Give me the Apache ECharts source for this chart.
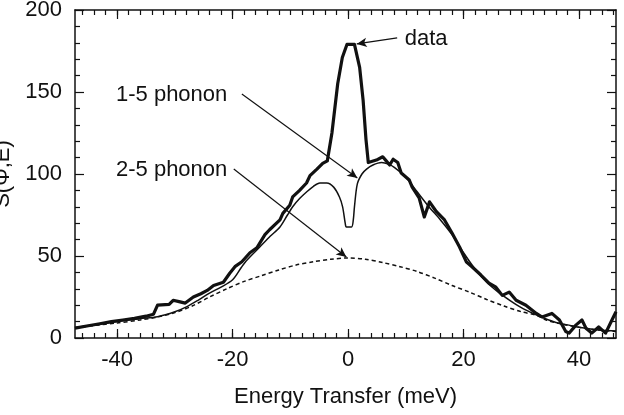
<!DOCTYPE html>
<html>
<head>
<meta charset="utf-8">
<script src="https://cdn.jsdelivr.net/npm/echarts@6/dist/echarts.min.js"></script>
<style>
html, body { margin: 0; padding: 0; background: #fff; }
#chart { width: 624px; height: 415px; }
</style>
</head>
<body>
<div id="chart"></div>
<script>
// measured data (thick line)
var dataE = [-47.3, -45, -43, -41, -39, -37, -35, -33.7, -33, -31, -30.3, -29.1, -28.2, -26.8, -25.5, -24.4, -23.3, -21.6, -20.5, -19.6, -18.4, -17, -15.8, -14.4, -13.6, -11.8, -11.3, -10.1, -9.6, -8.4, -7.2, -6.6, -5.4, -4.4, -3.6, -2.8, -1.8, -1, -0.2, 1.1, 2, 2.6, 3.1, 3.5, 4.9, 6, 6.6, 7.2, 7.8, 8.6, 9.2, 10.6, 11.1, 12.3, 13.2, 14.1, 15.3, 16.7, 18, 19.3, 20.5, 21.5, 23, 24.4, 25.6, 26.7, 27.9, 29.1, 30.8, 32.6, 33.6, 35.3, 36.6, 37.7, 38.3, 39.5, 40.5, 41.2, 42.2, 43.4, 44.6, 45.7, 46.4];
var dataS = [6, 7.5, 8.7, 10, 11, 12, 13.3, 14.5, 20, 20.5, 23, 22, 21.3, 25, 27, 29, 32, 34, 39.5, 43.5, 46.5, 52, 55, 63, 66, 72, 76, 81, 86, 90, 94.5, 99, 103, 106.5, 108, 125, 155, 171, 179, 179, 165, 145, 121, 107, 108.5, 110.5, 108, 105.5, 109, 107, 100.6, 96.3, 92, 85.4, 73.8, 83, 77, 72, 64, 55.5, 46.3, 43.3, 38.4, 33.5, 31, 26, 28, 23, 20, 15, 12.8, 15, 11, 4, 3, 8, 11, 6, 3, 6.7, 3, 11, 16];

// 1-5 phonon calculation (thin line)
var oneE = [-47.3, -44, -40, -36, -33, -30, -28, -26, -24, -22, -20, -18.5, -17.5, -15.3, -13.5, -11.8, -10.5, -9.6, -8.4, -7.2, -6, -4.9, -3.7, -2.5, -1.5, -0.95, -0.5, -0.3, 0.6, 0.9, 1.1, 1.6, 2.4, 3.2, 4.3, 5.8, 7, 8, 10, 12, 14, 16, 18, 20, 22, 24, 26, 28, 30, 32, 34, 36, 38, 40, 42, 44, 46.4];
var oneS = [6.3, 8, 10, 11.8, 13, 16, 19, 23, 27.4, 31, 35.5, 43, 47.6, 55.5, 62, 67.7, 75, 80, 85, 89, 92.5, 94.5, 94.5, 92, 86, 80, 70, 67.7, 67.7, 72, 80, 94, 100, 103, 105.5, 107, 106, 104, 98, 89, 80, 72, 63, 52, 42, 34, 28, 23, 18.5, 15, 12, 9.5, 8, 6.5, 5.5, 4.8, 4.3];

// 2-5 phonon calculation (dashed line)
var twoE = [-47.3, -44, -40, -36, -33, -30, -27, -24, -21, -18, -15, -12, -9, -6, -3, 0, 3, 6, 9, 12, 15, 18, 21, 24, 27, 30, 32.5, 34.3, 37, 40, 43, 46.4];
var twoS = [6.3, 7.6, 9.2, 11, 12.8, 15.5, 19.5, 25, 30, 34.5, 38, 41.5, 44.5, 46.5, 48, 48.8, 48, 46, 43.5, 40.5, 36.5, 32, 28, 23.5, 19.5, 16, 14, 11, 8.5, 6.5, 5, 4];

// axis range and tick steps
var xMin = -47.3, xMax = 46.4;
var majorMin = -40, majorMax = 40, majorStep = 20;
var minorMin = -46, minorMax = 46, minorStep = 2;

// annotations: [text, textX, textY, fromX, fromY, toX, toY]
var notes = [
	['data', 9.8, 182.3, 8.5, 183, 1.5, 179.3],
	['1-5 phonon', -40.2, 148.2, -18.4, 148.8, 1.6, 97.6],
	['2-5 phonon', -40.2, 102.4, -19.8, 103, -0.3, 49.4]
];

function pairs(xs, ys) {
	var out = [];
	for (var i = 0; i < xs.length; i++) out.push([xs[i], ys[i]]);
	return out;
}

var ink = '#111';
var font = 'Liberation Sans, Arial, Helvetica, sans-serif';
var W = 624, H = 415;
var gl = 75, gr = 8, gt = 10, gb = 77;

// extra grids for the x ticks, lined up with the main x scale so that
// the tick axes can start on a multiple of their interval
var k = (W - gl - gr) / (xMax - xMin);
function subGrid(lo, hi) {
	return {
		left: gl + (lo - xMin) * k,
		right: gr + (xMax - hi) * k,
		top: gt, bottom: gb, outerBoundsMode: 'none'
	};
}

var chart = echarts.init(document.getElementById('chart'));

function tickAx(grid, pos, lo, hi, step, len, labels) {
	return {
		type: 'value',
		gridIndex: grid,
		position: pos,
		min: lo,
		max: hi,
		interval: step,
		axisLine: { show: false, onZero: false },
		splitLine: { show: false },
		axisTick: { show: true, inside: true, length: len, lineStyle: { color: ink, width: 1.2 } },
		axisLabel: labels ? { show: true, color: ink, fontSize: 22, fontFamily: font, margin: 11 } : { show: false }
	};
}

function yAx(pos, labels) {
	return {
		type: 'value',
		position: pos,
		min: 0,
		max: 200,
		interval: 50,
		axisLine: { show: true, onZero: false, lineStyle: { color: ink, width: 1.5 } },
		splitLine: { show: false },
		axisTick: { show: true, inside: true, length: 9, lineStyle: { color: ink, width: 1.2 } },
		minorTick: { show: true, splitNumber: 5, length: 5, lineStyle: { color: ink, width: 1.2 } },
		axisLabel: labels ? { show: true, color: ink, fontSize: 22, fontFamily: font, margin: 13 } : { show: false }
	};
}

function frameAx(pos) {
	return {
		type: 'value',
		position: pos,
		min: xMin,
		max: xMax,
		axisLine: { show: true, onZero: false, lineStyle: { color: ink, width: 1.5 } },
		axisTick: { show: false },
		axisLabel: { show: false },
		splitLine: { show: false }
	};
}

var xAxes = [
	frameAx('bottom'),
	frameAx('top'),
	tickAx(1, 'bottom', minorMin, minorMax, minorStep, 5, false),
	tickAx(1, 'top', minorMin, minorMax, minorStep, 5, false),
	tickAx(2, 'bottom', majorMin, majorMax, majorStep, 9, true),
	tickAx(2, 'top', majorMin, majorMax, majorStep, 9, false)
];
xAxes[0].name = 'Energy Transfer (meV)';
xAxes[0].nameLocation = 'middle';
xAxes[0].nameGap = 48;
xAxes[0].nameTextStyle = { color: ink, fontSize: 22, fontFamily: font };

var yAxes = [
	yAx('left', true),
	yAx('right', false),
	{ type: 'value', gridIndex: 1, min: 0, max: 200, show: false },
	{ type: 'value', gridIndex: 2, min: 0, max: 200, show: false }
];
yAxes[0].name = 'S(Φ,E)';
yAxes[0].nameLocation = 'middle';
yAxes[0].nameGap = 60;
yAxes[0].nameTextStyle = { color: ink, fontSize: 22, fontFamily: font };

var option = {
	animation: false,
	grid: [
		{ left: gl, right: gr, top: gt, bottom: gb, outerBoundsMode: 'none' },
		subGrid(minorMin, minorMax),
		subGrid(majorMin, majorMax)
	],
	xAxis: xAxes,
	yAxis: yAxes,
	series: [{
			name: '2-5 phonon',
			type: 'line',
			data: pairs(twoE, twoS),
			smooth: 0.3,
			symbol: 'none',
			lineStyle: { color: ink, width: 1.5, type: [4, 3] }
		},
		{
			name: '1-5 phonon',
			type: 'line',
			data: pairs(oneE, oneS),
			smooth: 0.3,
			symbol: 'none',
			lineStyle: { color: ink, width: 1.5 }
		},
		{
			name: 'data',
			type: 'line',
			data: pairs(dataE, dataS),
			symbol: 'none',
			lineStyle: { color: ink, width: 3.2, join: 'round' },
			markLine: {
				silent: true,
				symbol: ['none', 'arrow'],
				symbolSize: [7, 10],
				label: { show: false },
				lineStyle: { color: ink, width: 1.2, type: 'solid' },
				data: notes.map(function(n) {
					return [{ coord: [n[3], n[4]] }, { coord: [n[5], n[6]] }];
				})
			},
			markPoint: {
				silent: true,
				symbol: 'circle',
				symbolSize: 0,
				label: { show: true, position: 'right', distance: 0, color: ink, fontSize: 22, fontFamily: font, formatter: '{b}' },
				data: notes.map(function(n) {
					return { name: n[0], coord: [n[1], n[2]] };
				})
			}
		}
	]
};

chart.setOption(option);
</script>
</body>
</html>
